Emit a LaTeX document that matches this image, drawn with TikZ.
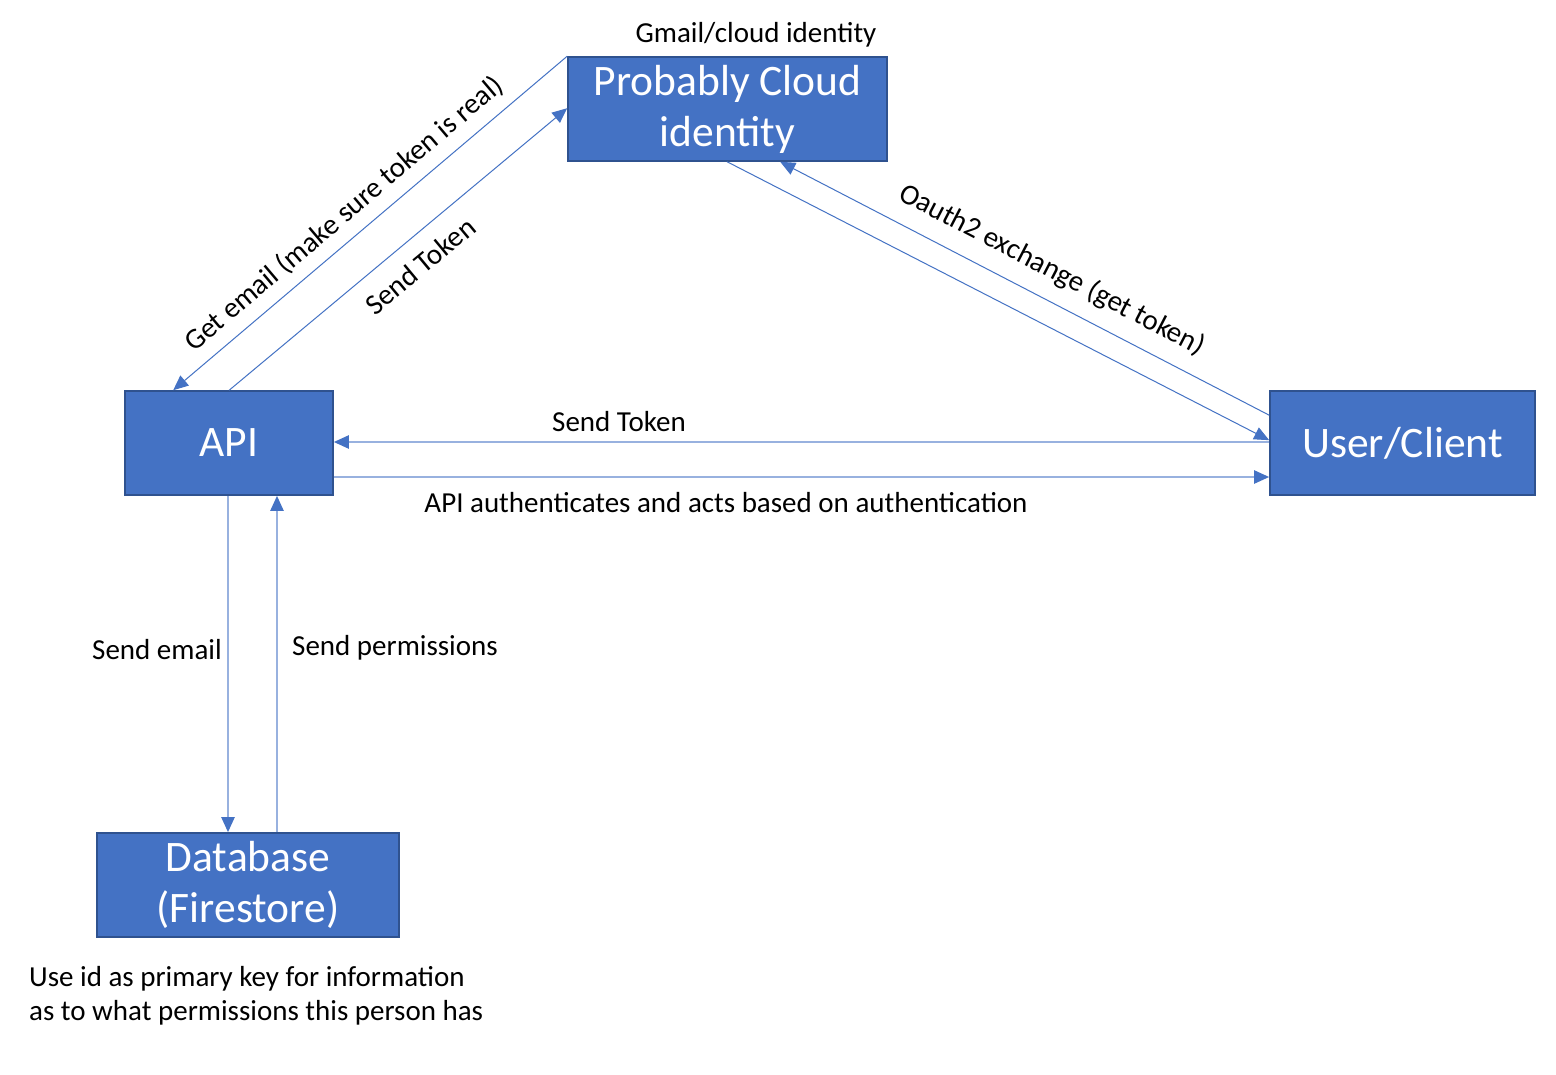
\documentclass[tikz,border=0pt]{standalone}
\usepackage{fontspec}
\setmainfont{Carlito}
\usetikzlibrary{arrows.meta}
\definecolor{boxfill}{HTML}{4472C4}
\definecolor{boxline}{HTML}{2F528F}
\definecolor{lineblue}{HTML}{4472C4}
\tikzset{
  box/.style={draw=boxline, line width=1.6pt, fill=boxfill, text=white, align=center, inner sep=0pt, font=\fontsize{43.5}{51}\selectfont},
  lbl/.style={font=\fontsize{29}{34}\selectfont, text=black, inner sep=0pt},
  tip/.style={-{Triangle[length=15pt,width=13pt,color=lineblue]}},
  diag/.style={tip, draw=lineblue, line width=1pt},
  straight/.style={tip, draw=lineblue!55, line width=2.2pt},
}
\begin{document}
\begin{tikzpicture}[x=1pt,y=-1pt]
\useasboundingbox (0,0) rectangle (1556,1074);
\fill[white] (0,0) rectangle (1556,1074);

\node[box, minimum width=319pt, minimum height=104pt] (cloud) at (727.5,109) {Probably Cloud\\identity};
\node[box, minimum width=208pt, minimum height=104pt] (api) at (229,443) {API};
\node[box, minimum width=265pt, minimum height=104pt] (user) at (1402.5,443) {User/Client};
\node[box, minimum width=302pt, minimum height=104pt] (db) at (248,885) {Database\\(Firestore)};

% diagonal connectors
\draw[diag] (cloud.north west) -- ([xshift=49pt]api.north west);
\draw[diag] ([xshift=105pt]api.north west) -- ([yshift=-52pt]cloud.north west);
\draw[diag] ([xshift=160pt]cloud.south west) -- ([yshift=-50pt]user.north west);
\draw[diag] ([yshift=-25pt]user.north west) -- ([xshift=213pt]cloud.south west);

% straight connectors
\draw[straight] ([yshift=1pt]user.west) -- ([yshift=1pt]api.east);
\draw[straight] ([yshift=-34pt]api.east) -- ([yshift=-34pt]user.west);
\draw[straight] ([xshift=-1pt]api.south) -- ([xshift=-20pt]db.north);
\draw[straight] ([xshift=29pt]db.north) -- ([xshift=48pt]api.south);

% labels
\node[lbl] (lgmail) at (756,35) {Gmail/cloud identity};
\node[lbl, rotate=40.3] (lgetemail) at (344,214) {Get email (make sure token is real)};
\node[lbl, rotate=39.7] (lsendtok1) at (420,266) {Send Token};
\node[lbl, rotate=-27.4] (loauth) at (1052,270) {Oauth2 exchange (get token)};
\node[lbl] (lsendtok2) at (619,422) {Send Token};
\node[lbl] (lauth) at (726,503) {API authenticates and acts based on authentication};
\node[lbl] (lsendemail) at (157,650) {Send email};
\node[lbl] (lsendperm) at (395,648) {Send permissions};
\node[lbl, anchor=north west, align=left] (lnote) at (29,966) {Use id as primary key for information\\as to what permissions this person has};
\end{tikzpicture}
\end{document}
